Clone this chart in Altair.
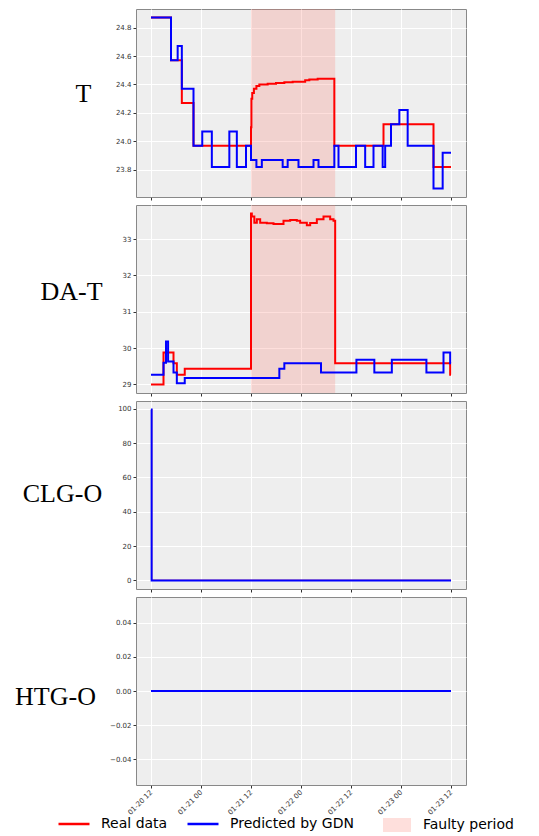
import altair as alt
import pandas as pd

# ---------------- data (hours after 2020-01-20 12:00 UTC) ----------------
T_real_h = [0, 4.8, 7.4, 10.2, 24.0, 24.1, 24.3, 24.7, 25.3, 26.0, 28, 30, 32, 34, 36, 37, 38, 40, 44.0, 55.8, 67.8, 72]
T_real_v = [24.87, 24.57, 24.27, 23.97, 24.10, 24.30, 24.34, 24.37, 24.39, 24.40, 24.405, 24.41, 24.415, 24.42,
            24.42, 24.43, 24.435, 24.44, 23.97, 24.12, 23.82, 23.82]
T_pred_h = [0, 4.8, 6.4, 7.4, 10.2, 12.3, 14.6, 18.8, 20.6, 22.8, 24.0, 25.3, 26.6, 31.6, 32.8, 35.4, 39.0, 40.2,
            44.0, 45.0, 49.2, 51.4, 53.4, 55.6, 56.2, 57.6, 59.6, 61.6, 67.8, 70.0, 72]
T_pred_v = [24.87, 24.57, 24.67, 24.37, 23.97, 24.07, 23.82, 24.07, 23.82, 23.97, 23.87, 23.82, 23.87, 23.82, 23.87,
            23.82, 23.87, 23.82, 23.97, 23.82, 23.97, 23.82, 23.97, 23.82, 23.97, 24.12, 24.22, 23.97, 23.67, 23.92, 23.92]

DAT_real_h = [0, 3.0, 5.4, 6.2, 8.1, 24.0, 24.2, 24.8, 25.4, 26.2, 27.8, 29.4, 31.8, 33.4, 35.0, 35.8, 37.4, 38.2,
              39.8, 41.4, 43.0, 43.8, 44.2, 71.8, 72]
DAT_real_v = [29.0, 29.88, 29.58, 29.27, 29.43, 33.70, 33.62, 33.45, 33.54, 33.45, 33.43, 33.41, 33.50, 33.52, 33.50,
              33.45, 33.38, 33.44, 33.54, 33.62, 33.54, 33.50, 29.58, 29.27, 29.27]
DAT_pred_h = [0, 3.0, 3.6, 4.1, 5.4, 6.2, 8.1, 30.8, 32.0, 40.8, 49.3, 53.6, 57.8, 66.1, 70.2, 71.8, 72]
DAT_pred_v = [29.27, 29.6, 30.18, 29.63, 29.33, 29.03, 29.18, 29.43, 29.58, 29.33, 29.68, 29.33, 29.68, 29.33, 29.88,
              29.58, 29.58]

CLG_h = [0, 0.15, 72]
CLG_real_v = [99.5, 0, 0]
CLG_pred_v = [99.5, 0, 0]

HTG_h = [0, 72]
HTG_real_v = [0, 0]
HTG_pred_v = [0, 0]

fault_start_h = [24.0]
fault_end_h = [44.2]

series_names = ["Real data", "Predicted by GDN"]
series_colors = ["#ff0000", "#0000ff"]
fault_label = ["Faulty period"]

START = pd.Timestamp("2020-01-20 12:00:00")


def iso(h):
    return (START + pd.to_timedelta(h, unit="h")).strftime("%Y-%m-%dT%H:%M:%SZ")


xdom = [alt.DateTime(year=2020, month=1, date=20, hours=8, minutes=24, utc=True),
        alt.DateTime(year=2020, month=1, date=23, hours=15, minutes=36, utc=True)]
xticks = [alt.DateTime(year=2020, month=1, date=20 + (12 + 12 * k) // 24, hours=(12 + 12 * k) % 24, utc=True)
          for k in range(7)]

color_legend = alt.Legend(orient="none", legendX=-79, legendY=798, direction="horizontal", title=None,
                          symbolType="stroke", symbolSize=961, symbolStrokeWidth=2.5, labelFontSize=14,
                          labelFont="DejaVu Sans", labelColor="black", labelOffset=10, columnPadding=14)
fill_legend = alt.Legend(orient="none", legendX=247, legendY=802, direction="horizontal", title=None,
                         symbolType="M-1,-0.5H1V0.5H-1Z", symbolSize=784, symbolStrokeWidth=0,
                         symbolOpacity=0.25, labelFontSize=14, labelFont="DejaVu Sans", labelColor="black",
                         labelOffset=12)

H = 188


def panel(h_real, v_real, h_pred, v_pred, title, dom, ticks, fmt, tx, ty, last, fault, real_w):
    df = pd.concat([
        pd.DataFrame({"t": [iso(h) for h in h_real], "v": v_real, "series": "Real data"}),
        pd.DataFrame({"t": [iso(h) for h in h_pred], "v": v_pred, "series": "Predicted by GDN"}),
    ])
    xaxis = alt.Axis(values=xticks, labelExpr="utcFormat(datum.value, '%m-%d %H')", labels=last,
                     labelAngle=-45, labelAlign="right", labelBaseline="middle",
                     labelFontSize=7, labelFont="DejaVu Sans", labelColor="#333333", tickSize=3,
                     tickColor="#333333", domain=False, grid=True, gridColor="white", gridWidth=1, title=None,
                     labelPadding=3)
    xscale = alt.Scale(type="utc", domain=xdom, nice=False)
    yaxis = alt.Axis(values=ticks, format=fmt, labelFontSize=7, labelFont="DejaVu Sans", labelColor="#333333",
                     tickSize=3, tickColor="#333333", domain=False, grid=True, gridColor="white", gridWidth=1,
                     title=title, titleAngle=0, titleX=tx, titleY=ty, titleAlign="center",
                     titleBaseline="middle", titleFont="Liberation Serif", titleFontSize=26,
                     titleFontWeight="normal", titleColor="black", labelPadding=2)
    color = alt.Color("series:N", scale=alt.Scale(domain=series_names, range=series_colors), legend=color_legend)
    layers = []
    if fault:
        fdf = pd.DataFrame({"start": [iso(h) for h in fault_start_h], "end": [iso(h) for h in fault_end_h],
                            "label": fault_label})
        layers.append(alt.Chart(fdf).mark_rect(opacity=0.25).encode(
            x=alt.X("start:T", scale=xscale, axis=xaxis), x2="end:T",
            fill=alt.Fill("label:N", scale=alt.Scale(domain=fault_label, range=["#fa8072"]), legend=fill_legend)))
    for name, w in zip(series_names, [real_w, 2]):
        layers.append(alt.Chart(df).transform_filter(alt.datum.series == name).mark_line(
            interpolate="step-after", strokeWidth=w, clip=True).encode(
            x=alt.X("t:T", scale=xscale, axis=xaxis),
            y=alt.Y("v:Q", scale=alt.Scale(domain=dom, nice=False, zero=False), axis=yaxis),
            color=color))
    return alt.layer(*layers).properties(width=330, height=H)


p1 = panel(T_real_h, T_real_v, T_pred_h, T_pred_v, "T", [23.61, 24.93], [23.8, 24.0, 24.2, 24.4, 24.6, 24.8],
           ".1f", -53, 84, False, True, 2)
p2 = panel(DAT_real_h, DAT_real_v, DAT_pred_h, DAT_pred_v, "DA-T", [28.765, 33.935], [29, 30, 31, 32, 33],
           "d", -65, 86, False, True, 2)
p3 = panel(CLG_h, CLG_real_v, CLG_h, CLG_pred_v, "CLG-O", [-4.975, 104.475], [0, 20, 40, 60, 80, 100],
           "d", -74, 92, False, False, 1.2)
p4 = panel(HTG_h, HTG_real_v, HTG_h, HTG_pred_v, "HTG-O", [-0.055, 0.055], [-0.04, -0.02, 0.0, 0.02, 0.04],
           ".2f", -81, 99, True, False, 1.2)

chart = alt.vconcat(p1, p2, p3, p4, spacing=3).properties(
    padding={"left": 6, "top": 0, "right": 0, "bottom": 0}
).configure_view(fill="#eeeeee", stroke="#888888", strokeWidth=1)

chart.save("out.html", embed_options={"renderer": "svg", "actions": False})
